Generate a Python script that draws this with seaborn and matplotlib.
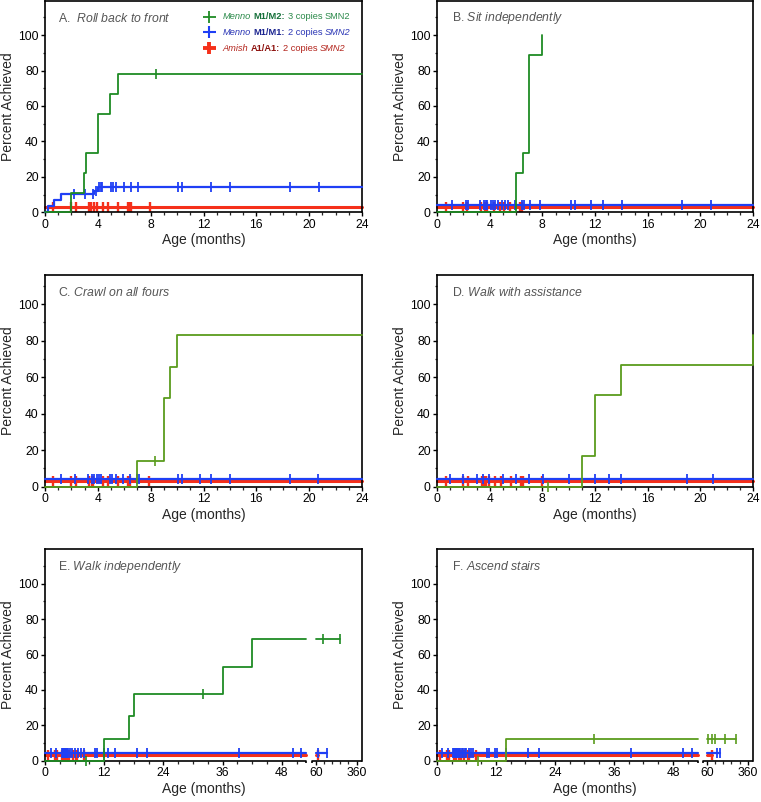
import numpy as np
import matplotlib
matplotlib.use("Agg")
import matplotlib.pyplot as plt
import seaborn as sns
from matplotlib.lines import Line2D
from matplotlib.ticker import FixedLocator, MultipleLocator
from matplotlib.offsetbox import TextArea, HPacker, VPacker, DrawingArea, AnchoredOffsetbox

sns.set_style("ticks")
plt.rcParams["font.family"] = ["Liberation Sans", "DejaVu Sans"]
plt.rcParams["mathtext.fontset"] = "custom"
plt.rcParams["mathtext.rm"] = "Liberation Sans"
plt.rcParams["mathtext.it"] = "Liberation Sans:italic"
plt.rcParams["mathtext.bf"] = "Liberation Sans:bold"

# ---------------- data ----------------
panel_letters = ["A.  ", "B. ", "C. ", "D. ", "E. ", "F. "]
panel_names = ["Roll back to front", "Sit independently", "Crawl on all fours",
               "Walk with assistance", "Walk independently", "Ascend stairs"]
legend_pop = ["Menno", "Menno", "Amish"]
legend_geno = ["M1/M2:", "M1/M1:", "A1/A1:"]
legend_copies = ["3 copies", "2 copies", "2 copies"]
legend_gene = ["SMN2", "SMN2", "SMN2"]
legend_gene_italic = [False, True, True]

# Panel A
A_green_t = [0, 1.95, 2.95, 3.1, 4.0, 4.95, 5.5]
A_green_pct = [0, 11.1, 22.2, 33.3, 55.6, 66.7, 77.8]
A_green_end = 24
A_green_cens = [8.4]
A_blue_t = [0, 0.25, 0.65, 1.2, 3.7, 4.0]
A_blue_pct = [0, 3.4, 6.9, 10.3, 12.0, 14.3]
A_blue_end = 24
A_blue_cens = [2.2, 3.0, 3.65, 3.83, 4.08, 4.21, 4.34, 4.99, 5.17, 5.37, 5.97, 6.5,
               7.06, 10.08, 10.41, 12.6, 13.99, 18.53, 20.72]
A_red_t = [0]
A_red_pct = [3.2]
A_red_end = 24
A_red_cens = [0.63, 1.94, 2.34, 3.35, 3.5, 3.73, 3.96, 4.41, 4.79, 5.55, 6.3, 6.43, 6.5, 7.94]

# Panel B
B_green_t = [0, 6.0, 6.5, 7.0, 8.0]
B_green_pct = [0, 22.2, 33.3, 88.9, 100]
B_green_end = 8.0
B_green_cens = []
B_blue_t = [0]
B_blue_pct = [4.1]
B_blue_end = 24
B_blue_cens = [1.16, 2.18, 2.35, 3.29, 3.54, 3.7, 3.8, 4.13, 4.25, 4.38, 4.63, 4.96, 5.14,
               5.39, 5.9, 6.48, 6.58, 7.09, 7.85, 10.15, 10.46, 11.72, 12.61, 14.08, 18.61, 20.78]
B_red_t = [0]
B_red_pct = [3.0]
B_red_end = 24
B_red_cens = [0.66, 1.97, 2.28, 3.37, 3.62, 3.8, 4.3, 4.76, 5.06, 5.52, 6.28, 6.48]

# Panel C
C_green_t = [0, 7.0, 9.0, 9.5, 10.0]
C_green_pct = [0, 14.3, 48.6, 65.7, 82.9]
C_green_end = 24
C_green_cens = [8.35]
C_blue_t = [0]
C_blue_pct = [4.2]
C_blue_end = 24
C_blue_cens = [1.19, 2.27, 3.28, 3.54, 3.71, 3.92, 4.12, 4.22, 4.93, 5.05, 5.38, 5.89, 6.44,
               7.0, 7.15, 10.1, 10.36, 11.7, 12.56, 14.02, 18.52, 20.67]
C_red_t = [0]
C_red_pct = [3.1]
C_red_end = 24
C_red_cens = [0.63, 1.95, 2.35, 3.36, 3.55, 3.66, 4.37, 4.8, 5.56, 6.32, 6.44, 7.9]

# Panel D
D_green_t = [0, 11.0, 12.0, 14.0, 24.0]
D_green_pct = [0, 16.7, 50.0, 66.7, 83.3]
D_green_end = 24
D_green_cens = [8.45]
D_blue_t = [0]
D_blue_pct = [4.2]
D_blue_end = 24
D_blue_cens = [1.02, 1.98, 3.0, 3.5, 3.96, 4.98, 5.99, 7.01, 8.03, 10.03, 12.01, 13.03,
               14.0, 19.0, 20.98]
D_red_t = [0]
D_red_pct = [3.1]
D_red_end = 24
D_red_cens = [0.66, 1.98, 2.36, 3.38, 3.56, 3.71, 3.96, 4.39, 4.83, 5.59, 6.35, 6.5, 8.0]

# Panel E
E_green_t = [0, 12.0, 17.0, 18.0, 36.0, 42.0]
E_green_pct = [0, 12.5, 25.0, 37.5, 53.1, 68.75]
E_green_end = 238
E_green_cens = [8.3, 32.0, 116, 238]
E_blue_t = [0]
E_blue_pct = [4.1]
E_blue_end = 140
E_blue_cens = [1.3, 2.2, 3.4, 3.6, 3.7, 3.8, 3.9, 4.0, 4.1, 4.3, 4.5, 4.7, 5.1, 5.5, 6.1,
               6.7, 7.2, 7.9, 10.2, 10.5, 12.0, 12.7, 14.1, 18.7, 20.7, 39.4, 50.2, 51.9,
               79, 140]
E_red_t = [0]
E_red_pct = [3.0]
E_red_end = 77
E_red_cens = [0.66, 1.97, 2.36, 3.38, 3.56, 3.71, 3.96, 4.39, 4.83, 5.59, 6.35, 6.5, 7.9, 77]

# Panel F
F_green_t = [0, 14.0]
F_green_pct = [0, 12.5]
F_green_end = 274
F_green_cens = [8.4, 31.9, 71, 96, 120, 194, 274]
F_blue_t = [0]
F_blue_pct = [4.1]
F_blue_end = 157
F_blue_cens = [1.0, 2.2, 3.2, 3.5, 3.7, 3.8, 3.9, 4.0, 4.2, 4.4, 4.7, 5.0, 5.3, 5.6, 5.9,
               6.5, 7.0, 7.4, 10.1, 10.5, 11.7, 12.3, 14.0, 18.5, 20.7, 39.4, 50.1, 51.8,
               132, 157]
F_red_t = [0]
F_red_pct = [3.0]
F_red_end = 96
F_red_cens = [0.66, 1.97, 2.36, 3.38, 3.56, 3.71, 3.96, 4.39, 4.83, 5.59, 6.35, 6.5, 7.9, 96]

# ---------------- style ----------------
GREEN_DARK = "#1f8b24"
GREEN_OLIVE = "#5a9c1e"
BLUE = "#1f3ff5"
RED = "#f5301a"
LEG_TEXT = ["#2b8a4a", "#2a35b5", "#b3241c"]
LEG_BOLD = ["#15703a", "#1c2590", "#8e1410"]
LEG_MARK = [GREEN_DARK, BLUE, RED]
LEG_LW = [1.3, 1.5, 2.8]
TITLE_GRAY = "#555555"

SEG1_END = 53.0
SEG2_START = 60.0
SEG2_AXIS = 54.6
XP = np.array([-1000.0, 0.0, 54.0, 60.0, 360.0, 5000.0])
K2 = 8.3 / 300.0
UP = np.array([-1000.0, 0.0, 54.0, 54.9, 54.9 + 300 * K2, 54.9 + 4940 * K2])


def fwd(x):
    return np.interp(x, XP, UP)


def inv(u):
    return np.interp(u, UP, XP)


def step_val(times, vals, x):
    idx = np.searchsorted(np.asarray(times, float), np.asarray(x, float), side="right") - 1
    return np.asarray(vals, float)[np.clip(idx, 0, None)]


def segment(times, vals, lo, hi):
    ts = [t for t in times if lo < t < hi]
    xs = [lo] + ts + [hi]
    ys = list(step_val(times, vals, xs))
    return xs, ys


def draw_series(ax, times, pct, end, cens, color, lw, mew, z, broken):
    if broken:
        ranges = [(0, min(end, SEG1_END))]
        if end > SEG2_START:
            ranges.append((SEG2_START, end))
    else:
        ranges = [(0, end)]
    for lo, hi in ranges:
        xs, ys = segment(times, pct, lo, hi)
        sns.lineplot(x=xs, y=ys, ax=ax, estimator=None, sort=False,
                     drawstyle="steps-post", color=color, lw=lw, clip_on=False,
                     zorder=z)
    if len(cens):
        cy = step_val(times, pct, cens)
        ax.plot(cens, cy, ls="none", marker="|", ms=6.5, mew=mew, color=color,
                clip_on=False, zorder=z)


def add_legend(ax):
    rows = []
    fs = 6.7
    for k in range(3):
        da = DrawingArea(10, 8, 0, 0)
        da.add_artist(Line2D([0, 10], [4, 4], color=LEG_MARK[k], lw=LEG_LW[k],
                             solid_capstyle="butt"))
        da.add_artist(Line2D([5], [4], color=LEG_MARK[k], marker="|", ms=8,
                             mew=LEG_LW[k], ls="none"))
        pieces = [
            TextArea(legend_pop[k], textprops=dict(fontsize=fs, color=LEG_TEXT[k], style="italic")),
            TextArea(legend_geno[k], textprops=dict(fontsize=fs, color=LEG_BOLD[k], weight="bold")),
            TextArea(legend_copies[k], textprops=dict(fontsize=fs, color=LEG_TEXT[k])),
            TextArea(legend_gene[k], textprops=dict(fontsize=fs, color=LEG_TEXT[k],
                                                    style="italic" if legend_gene_italic[k] else "normal")),
        ]
        txt = HPacker(children=pieces, align="baseline", pad=0, sep=1.9)
        rows.append(HPacker(children=[da, txt], align="center", pad=0, sep=4.4))
    box = VPacker(children=rows, align="left", pad=0, sep=3.4)
    anch = AnchoredOffsetbox(loc="upper left", child=box, pad=0, borderpad=0,
                             frameon=False, bbox_to_anchor=(0.497, 0.95),
                             bbox_transform=ax.transAxes)
    ax.add_artist(anch)


panels = [
    dict(g=(A_green_t, A_green_pct, A_green_end, A_green_cens),
         b=(A_blue_t, A_blue_pct, A_blue_end, A_blue_cens),
         r=(A_red_t, A_red_pct, A_red_end, A_red_cens), gc=GREEN_DARK, broken=False),
    dict(g=(B_green_t, B_green_pct, B_green_end, B_green_cens),
         b=(B_blue_t, B_blue_pct, B_blue_end, B_blue_cens),
         r=(B_red_t, B_red_pct, B_red_end, B_red_cens), gc=GREEN_DARK, broken=False),
    dict(g=(C_green_t, C_green_pct, C_green_end, C_green_cens),
         b=(C_blue_t, C_blue_pct, C_blue_end, C_blue_cens),
         r=(C_red_t, C_red_pct, C_red_end, C_red_cens), gc=GREEN_OLIVE, broken=False),
    dict(g=(D_green_t, D_green_pct, D_green_end, D_green_cens),
         b=(D_blue_t, D_blue_pct, D_blue_end, D_blue_cens),
         r=(D_red_t, D_red_pct, D_red_end, D_red_cens), gc=GREEN_OLIVE, broken=False),
    dict(g=(E_green_t, E_green_pct, E_green_end, E_green_cens),
         b=(E_blue_t, E_blue_pct, E_blue_end, E_blue_cens),
         r=(E_red_t, E_red_pct, E_red_end, E_red_cens), gc=GREEN_DARK, broken=True),
    dict(g=(F_green_t, F_green_pct, F_green_end, F_green_cens),
         b=(F_blue_t, F_blue_pct, F_blue_end, F_blue_cens),
         r=(F_red_t, F_red_pct, F_red_end, F_red_cens), gc=GREEN_OLIVE, broken=True),
]

W, H = 761, 802
fig = plt.figure(figsize=(W / 100, H / 100), dpi=100)
fig.patch.set_facecolor("white")

col_px = [(45, 362), (437, 753)]
row_px = [(0.5, 212.3, 119.5), (275, 486.7, 116), (549.3, 760.7, 119.5)]

for i, p in enumerate(panels):
    r, c = divmod(i, 2)
    x0, x1 = col_px[c]
    y0, y1, ytop = row_px[r]
    ax = fig.add_axes([x0 / W, 1 - y1 / H, (x1 - x0) / W, (y1 - y0) / H])
    ax.set_facecolor("white")

    draw_series(ax, *p["r"], RED, 2.2, 1.7, 2, p["broken"])
    draw_series(ax, *p["b"], BLUE, 1.6, 1.3, 3, p["broken"])
    draw_series(ax, *p["g"], p["gc"], 1.3, 1.2, 4, p["broken"])

    ax.set_ylim(0, ytop)
    ax.yaxis.set_major_locator(FixedLocator([0, 20, 40, 60, 80, 100]))
    ax.yaxis.set_minor_locator(FixedLocator([10, 30, 50, 70, 90, 110]))

    if p["broken"]:
        ax.set_xscale("function", functions=(fwd, inv))
        ax.set_xlim(0, 399)
        ax.xaxis.set_major_locator(FixedLocator([0, 12, 24, 36, 48, 60, 360]))
        minors = [m for m in range(3, 52, 3) if m % 12 != 0] + [120, 180, 240, 300]
        ax.xaxis.set_minor_locator(FixedLocator(minors))
        ax.set_xticklabels(["0", "12", "24", "36", "48", "60", "360"])
        ax.spines["bottom"].set_visible(False)
        tr = ax.get_xaxis_transform()
        tk = 0.013
        ax.plot([0, SEG1_END, SEG1_END], [0, 0, -tk], transform=tr, color="black",
                lw=1.2, clip_on=False, zorder=1, solid_capstyle="butt")
        ax.plot([SEG2_AXIS, SEG2_AXIS, 399], [-tk, 0, 0], transform=tr, color="black",
                lw=1.2, clip_on=False, zorder=1, solid_capstyle="butt")
    else:
        ax.set_xlim(0, 24)
        ax.xaxis.set_major_locator(MultipleLocator(4))
        ax.xaxis.set_minor_locator(MultipleLocator(1))

    for s in ax.spines.values():
        s.set_color("black")
        s.set_linewidth(1.2)
    ax.tick_params(axis="both", which="major", direction="out", length=3, width=1.0,
                   labelsize=8.7, pad=1.5, colors="black")
    ax.tick_params(axis="both", which="minor", direction="out", length=1.8, width=0.9)

    ax.set_xlabel("Age (months)", fontsize=10, labelpad=2)
    ax.set_ylabel("Percent Achieved", fontsize=10, labelpad=2)

    tx = 0.041 if c == 0 else 0.0465
    ax.text(tx, 0.917, panel_letters[i] + r"$\mathit{" + panel_names[i].replace(" ", r"\ ") + "}$",
            transform=ax.transAxes, ha="left", va="center", fontsize=8.8,
            color=TITLE_GRAY)

    if i == 0:
        add_legend(ax)

fig.savefig("out.png", dpi=100, facecolor="white")
